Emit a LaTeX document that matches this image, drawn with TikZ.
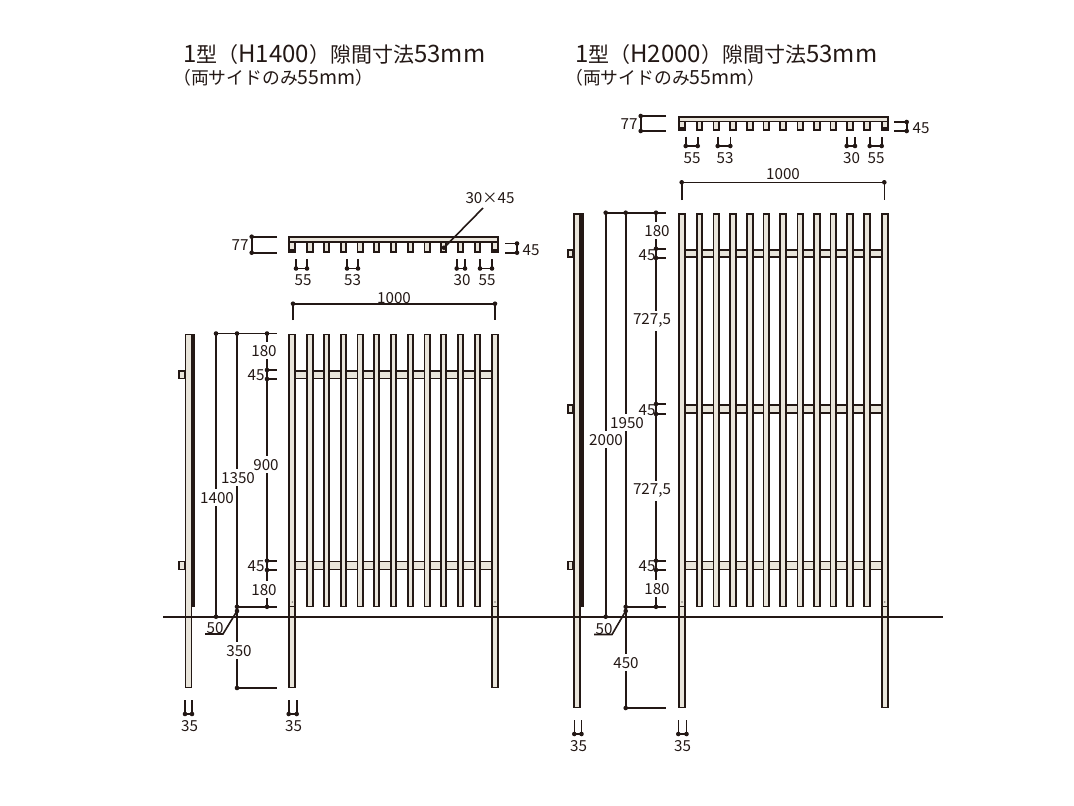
\documentclass[tikz,border=0pt]{standalone}
\usepackage{fontspec}
\setmainfont{Noto Sans CJK JP}
\usetikzlibrary{calc}
\definecolor{ink}{HTML}{231815}
\definecolor{wood}{HTML}{E9E5DB}
\tikzset{
  x=1pt,y=-1pt,
  lab/.style={font=\fontsize{15.2}{16}\selectfont,text=ink,inner sep=0pt,yshift=-0.7pt},
  gaplab/.style={lab,fill=white,inner xsep=0.5pt,inner ysep=3pt},
  title/.style={font=\fontsize{21}{22}\selectfont,text=ink,inner sep=0pt,anchor=west},
  subtitle/.style={font=\fontsize{17.8}{18}\selectfont,text=ink,inner sep=0pt,anchor=west},
  member/.style={draw=ink,fill=wood,line width=1.9pt,line join=miter},
  dimline/.style={draw=ink,line width=1.6pt},
  groundline/.style={draw=ink,line width=1.8pt},
  dimmark/.style={circle,fill=ink,draw=none,inner sep=0pt,minimum size=4.6pt},
}
\newcommand{\tlat}[1]{{\fontsize{24}{23}\selectfont #1}}
\newcommand{\tsub}[1]{{\fontsize{19.5}{20}\selectfont #1}}
\newcommand{\dimdot}[2]{\node[dimmark] at (#1,#2) {};}
% upright slat: centre x, half width of the drawn rectangle, top, bottom
\newcommand{\fslat}[4]{\draw[member] ({#1-#2},#3) rectangle ({#1+#2},#4);}
% rail between the two posts
\newcommand{\frail}[3]{\draw[member] ({292.3+#1},#2) rectangle ({495+#1},#3);}
% the whole front view: shift, top, post bottom
\newcommand{\fslats}[3]{%
  \foreach \c in {309.8,326.6,343.5,360.3,376.6,393.5,410.6,427.3,443.6,460.5,477.5}{\fslat{\c+#1}{2.8}{#2}{606.5}}
  \foreach \c in {292.3,495}{%
    \fslat{\c+#1}{3.1}{#2}{#3}
    \draw[ink,line width=1.2pt] ({\c+#1-3},606.8) -- ({\c+#1+3},606.8);
    \node[circle,fill=ink!60,inner sep=0pt,minimum size=1.6pt] at ({\c+#1},602) {};
  }}
% plan view: shift, bar top, bar bottom, teeth bottom
\newcommand{\fplan}[4]{%
  \foreach \c in {309.8,326.6,343.5,360.3,376.6,393.5,410.6,427.3,443.6,460.5,477.5}{%
    \draw[member] ({\c+#1-2.8},#3) rectangle ({\c+#1+2.8},#4);}
  \foreach \c in {292.3,495}{%
    \draw[member] ({\c+#1-3.1},#3) rectangle ({\c+#1+3.1},#4);
    \fill[ink] ({\c+#1-3.1},{#4-3}) rectangle ({\c+#1+3.1},#4);}
  \draw[member] ({292.3+#1-3.1},#2) rectangle ({495+#1+3.1},#3);}
% side view: shift, top, post bottom
\newcommand{\fside}[3]{%
  \fill[ink] ({191.5+#1},{#2-1}) rectangle ({195+#1},606.5);
  \draw[member] ({185.5+#1},#2) rectangle ({191.5+#1},#3);}
\newcommand{\fbracket}[3]{\draw[member] ({179+#1},#2) rectangle ({184.5+#1},#3);}
% small spacing dimension: name, x1, x2, top, bar, label x, label y, text
\newcommand{\gapdim}[8]{%
  \draw[dimline] (#2,#4) -- (#2,#5) -- (#3,#5) -- (#3,#4);
  \dimdot{#2}{#5}\dimdot{#3}{#5}
  \node[lab] (#1) at (#6,#7) {#8};}
\begin{document}
\begin{tikzpicture}
\path[use as bounding box,fill=white] (0,0) rectangle (1074,806);

% ---------- titles ----------
\node[title] (t1) at (183,54.5) {\tlat{1}型（\tlat{H1400}）隙間寸法\tlat{53mm}};
\node[subtitle] (s1) at (173,78) {（両サイドのみ\tsub{55mm}）};
\node[title] (t2) at (575,54.5) {\tlat{1}型（\tlat{H2000}）隙間寸法\tlat{53mm}};
\node[subtitle] (s2) at (565,78) {（両サイドのみ\tsub{55mm}）};

% ---------- left: side view ----------
\fside{0}{334.5}{687.5}
\fbracket{0}{371}{378.5}
\fbracket{0}{561.5}{569.5}

% ---------- left: dimension lines ----------
\draw[dimline] (216,333.5) -- (216,616.7);
\draw[dimline] (237,333.5) -- (237,688);
\draw[dimline] (267,333.5) -- (267,606.8);
\draw[dimline] (216,333.5) -- (277,333.5);
\draw[dimline] (267,370) -- (277,370);
\draw[dimline] (267,379) -- (277,379);
\draw[dimline] (267,560.7) -- (277,560.7);
\draw[dimline] (267,570) -- (277,570);
\draw[dimline] (237,606.8) -- (277,606.8);
\draw[dimline] (237,688) -- (277,688);
\draw[dimline] (237,611) -- (223,634) -- (205,634);
\foreach \p/\q in {216/333.5,237/333.5,267/333.5,267/370,267/379,267/560.7,267/570,237/606.8,267/606.8,237/688,216/616.7,237/611}{\dimdot{\p}{\q}}

% ---------- left: front view ----------
\frail{0}{371}{378.5}
\frail{0}{561.5}{569.5}
\fslats{0}{334.5}{687.5}

\node[gaplab] (La) at (217,497) {1400};
\node[gaplab] (Lb) at (238,477) {1350};
\node[gaplab] (Lc) at (264,350) {180};
\node[lab] (Ld) at (256,374) {45};
\node[gaplab] (Le) at (266,464) {900};
\node[lab] (Lf) at (256,565) {45};
\node[gaplab] (Lg) at (264,589) {180};
\node[gaplab] (Lh) at (239,650) {350};
\node[lab] (Li) at (215,627) {50};

% ---------- left: plan ----------
\fplan{0}{236.9}{242}{252}
\draw[dimline] (277,236.7) -- (251.7,236.7) -- (251.7,252.7) -- (277,252.7);
\dimdot{251.7}{236.7}\dimdot{251.7}{252.7}
\node[lab] (Lj) at (240,244) {77};
\draw[dimline] (505,243.5) -- (517,243.5) -- (517,252.7) -- (505,252.7);
\dimdot{517}{243.5}\dimdot{517}{252.7}
\node[lab] (Lk) at (531,249) {45};
\gapdim{Ll}{296}{307}{259}{268.5}{303}{279}{55}
\gapdim{Lm}{347}{358}{259}{268.5}{352.5}{279}{53}
\gapdim{Ln}{456.7}{465}{259}{268.5}{462}{279}{30}
\gapdim{Lo}{480}{492}{259}{268.5}{487}{279}{55}
\draw[dimline] (293,320) -- (293,303.7) -- (495,303.7) -- (495,320);
\dimdot{293}{303.7}\dimdot{495}{303.7}
\node[lab] (Lp) at (394,297) {1000};
\node[lab] (Lq) at (490,197) {30×45};
\draw[dimline] (483,208) -- (444,247.7);
\dimdot{444}{247.7}

% ---------- left: post widths ----------
\gapdim{Lr}{185}{192}{700}{714}{189.5}{725}{35}
\gapdim{Ls}{288.7}{296.7}{700}{714}{293.5}{725}{35}

% ---------- right: side view ----------
\fside{388.8}{213.7}{707.5}
\fbracket{388.8}{249.7}{257}
\fbracket{388.8}{405}{413}
\fbracket{388.8}{561.5}{569.5}

% ---------- right: dimension lines ----------
\draw[dimline] (605.7,212.7) -- (605.7,616.7);
\draw[dimline] (625.7,212.7) -- (625.7,708);
\draw[dimline] (656,212.7) -- (656,606.8);
\draw[dimline] (605.7,212.7) -- (666,212.7);
\draw[dimline] (656,248.7) -- (666,248.7);
\draw[dimline] (656,258) -- (666,258);
\draw[dimline] (656,404) -- (666,404);
\draw[dimline] (656,414) -- (666,414);
\draw[dimline] (656,560.7) -- (666,560.7);
\draw[dimline] (656,570) -- (666,570);
\draw[dimline] (625.7,606.8) -- (666,606.8);
\draw[dimline] (625.7,708) -- (666,708);
\draw[dimline] (625.7,611) -- (612,634.5) -- (594,634.5);
\foreach \p/\q in {605.7/212.7,625.7/212.7,656/212.7,656/248.7,656/258,656/404,656/414,656/560.7,656/570,625.7/606.8,656/606.8,625.7/708,605.7/616.7,625.7/611}{\dimdot{\p}{\q}}

% ---------- right: front view ----------
\frail{389.7}{249.7}{257}
\frail{389.7}{405}{413}
\frail{389.7}{561.5}{569.5}
\fslats{389.7}{213.7}{707.5}

\node[gaplab] (Ra) at (606,439) {2000};
\node[gaplab] (Rb) at (627,422) {1950};
\node[gaplab] (Rc) at (657,230) {180};
\node[lab] (Rd) at (647,254) {45};
\node[gaplab] (Re) at (652,320) {727,5};
\node[lab] (Rf) at (647,409) {45};
\node[gaplab] (Rg) at (652,490) {727,5};
\node[lab] (Rh) at (647,565) {45};
\node[gaplab] (Ri) at (657,588) {180};
\node[gaplab] (Rj) at (626,662) {450};
\node[lab] (Rk) at (604,628) {50};

% ---------- right: plan ----------
\fplan{389.7}{116.8}{121.5}{130.3}
\draw[dimline] (666,116) -- (640.7,116) -- (640.7,131) -- (666,131);
\dimdot{640.7}{116}\dimdot{640.7}{131}
\node[lab] (Rl) at (629,123) {77};
\draw[dimline] (894,122) -- (906.7,122) -- (906.7,131) -- (894,131);
\dimdot{906.7}{122}\dimdot{906.7}{131}
\node[lab] (Rm) at (921,127) {45};
\gapdim{Rn}{685.7}{697.7}{136.7}{146}{692}{157}{55}
\gapdim{Ro}{717.7}{730.3}{136.7}{146}{725}{157}{53}
\gapdim{Rp}{846.7}{855}{136.7}{146}{851.5}{157}{30}
\gapdim{Rq}{869.7}{881.7}{136.7}{146}{876}{157}{55}
\draw[dimline] (681.7,200) -- (681.7,182.3) -- (884.3,182.3) -- (884.3,200);
\dimdot{681.7}{182.3}\dimdot{884.3}{182.3}
\node[lab] (Rr) at (783,173) {1000};

% ---------- right: post widths ----------
\gapdim{Rs}{574.3}{581.5}{720}{734}{578.5}{745}{35}
\gapdim{Rt}{678.3}{686.5}{720}{734}{682.5}{745}{35}

% ---------- ground ----------
\draw[groundline] (163,616.7) -- (943,616.7);
\end{tikzpicture}
\end{document}
